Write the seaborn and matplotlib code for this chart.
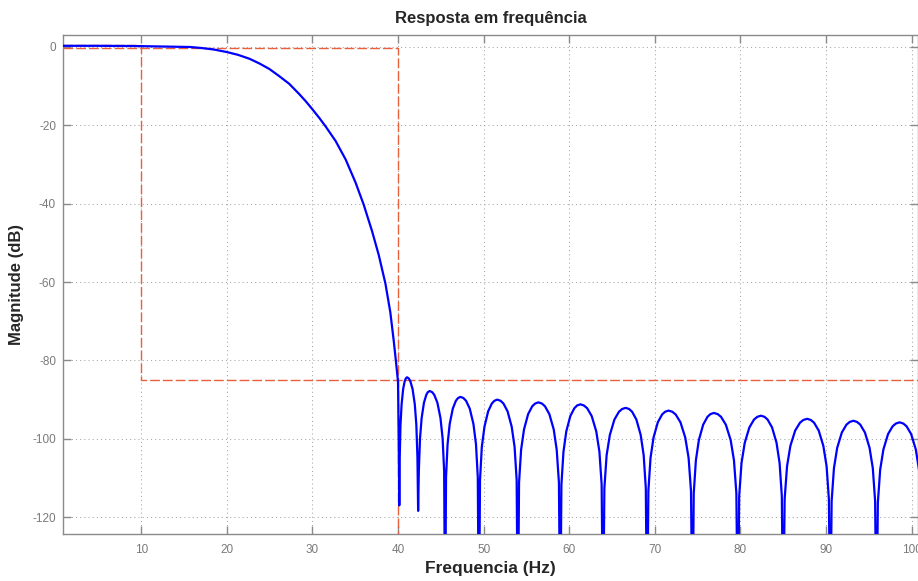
import numpy as np
import pandas as pd
import matplotlib
matplotlib.use("Agg")
import matplotlib.pyplot as plt
import seaborn as sns

# ---------------- data ----------------
# pass band + transition band (Hz, dB)
freq_pass = [0.86, 5.0, 9.0, 12.0, 14.0, 15.7, 17.0, 18.5, 20.0, 21.3, 22.64,
             23.8, 24.96, 26.1, 27.29, 28.45, 29.2, 30.0, 30.8, 31.55, 32.71,
             33.88, 35.04, 36.0, 36.98, 37.75, 38.53, 39.1, 39.5, 39.77, 40.0, 40.08]
mag_pass = [0.3, 0.3, 0.25, 0.15, 0.07, 0.0, -0.25, -0.65, -1.29, -2.0, -3.0,
            -4.2, -5.6, -7.4, -9.4, -12.0, -13.8, -15.9, -18.1, -20.3, -24.0,
            -28.7, -34.6, -40.3, -47.1, -53.1, -60.4, -67.7, -75.0, -80.5, -85.5, -100.0]

# stop band (side lobes and nulls)
freq_stop = [40.15,
             40.20, 40.29, 40.42, 40.60, 40.78, 40.91, 41.05, 41.26, 41.44, 41.70, 41.96, 42.14, 42.27,
             42.35,
             42.43, 42.57, 42.76, 43.03, 43.30, 43.48, 43.70, 43.99, 44.24, 44.60, 44.96, 45.21, 45.39,
             45.50,
             45.61, 45.79, 46.04, 46.40, 46.76, 47.01, 47.30, 47.64, 47.95, 48.38, 48.81, 49.11, 49.32,
             49.45,
             49.58, 49.79, 50.10, 50.53, 50.96, 51.26, 51.60, 51.98, 52.32, 52.80, 53.28, 53.62, 53.86,
             54.00,
             54.14, 54.38, 54.72, 55.20, 55.68, 56.02, 56.40, 56.81, 57.17, 57.68, 58.19, 58.54, 58.80,
             58.95,
             59.09, 59.33, 59.66, 60.13, 60.60, 60.92, 61.30, 61.72, 62.10, 62.63, 63.16, 63.53, 63.79,
             63.95,
             64.11, 64.37, 64.75, 65.28, 65.81, 66.18, 66.60, 67.00, 67.35, 67.85, 68.35, 68.70, 68.95,
             69.10,
             69.25, 69.50, 69.85, 70.35, 70.85, 71.20, 71.60, 72.05, 72.44, 73.00, 73.56, 73.95, 74.23,
             74.40,
             74.55, 74.80, 75.15, 75.65, 76.15, 76.50, 76.90, 77.35, 77.74, 78.30, 78.86, 79.25, 79.53,
             79.70,
             79.86, 80.13, 80.51, 81.05, 81.59, 81.97, 82.40, 82.82, 83.18, 83.70, 84.22, 84.58, 84.84,
             85.00,
             85.17, 85.45, 85.84, 86.40, 86.96, 87.35, 87.80, 88.23, 88.61, 89.15, 89.69, 90.07, 90.34,
             90.50,
             90.66, 90.93, 91.31, 91.85, 92.39, 92.77, 93.20, 93.63, 94.01, 94.55, 95.09, 95.47, 95.74,
             95.90,
             96.06, 96.33, 96.71, 97.25, 97.79, 98.17, 98.60, 99.03, 99.41, 99.95, 100.49, 100.87]
mag_stop = [-117.0,
            -104.8, -96.4, -91.2, -87.3, -85.3, -84.6, -84.3, -84.6, -85.3, -87.3, -91.2, -96.4, -104.8,
            -118.4,
            -108.3, -99.9, -94.7, -90.8, -88.8, -88.1, -87.8, -88.1, -88.8, -90.8, -94.7, -99.9, -108.3,
            -150.0,
            -109.8, -101.4, -96.2, -92.3, -90.3, -89.6, -89.3, -89.6, -90.3, -92.3, -96.2, -101.4, -109.8,
            -150.0,
            -110.5, -102.1, -96.9, -93.0, -91.0, -90.3, -90.0, -90.3, -91.0, -93.0, -96.9, -102.1, -110.5,
            -150.0,
            -111.2, -102.8, -97.6, -93.7, -91.7, -91.0, -90.7, -91.0, -91.7, -93.7, -97.6, -102.8, -111.2,
            -150.0,
            -111.7, -103.3, -98.1, -94.2, -92.2, -91.5, -91.2, -91.5, -92.2, -94.2, -98.1, -103.3, -111.7,
            -150.0,
            -112.6, -104.2, -99.0, -95.1, -93.1, -92.4, -92.1, -92.4, -93.1, -95.1, -99.0, -104.2, -112.6,
            -150.0,
            -113.3, -104.9, -99.7, -95.8, -93.8, -93.1, -92.8, -93.1, -93.8, -95.8, -99.7, -104.9, -113.3,
            -150.0,
            -113.9, -105.5, -100.3, -96.4, -94.4, -93.7, -93.4, -93.7, -94.4, -96.4, -100.3, -105.5, -113.9,
            -150.0,
            -114.6, -106.2, -101.0, -97.1, -95.1, -94.4, -94.1, -94.4, -95.1, -97.1, -101.0, -106.2, -114.6,
            -150.0,
            -115.4, -107.0, -101.8, -97.9, -95.9, -95.2, -94.9, -95.2, -95.9, -97.9, -101.8, -107.0, -115.4,
            -150.0,
            -115.9, -107.5, -102.3, -98.4, -96.4, -95.7, -95.4, -95.7, -96.4, -98.4, -102.3, -107.5, -115.9,
            -150.0,
            -116.3, -107.9, -102.7, -98.8, -96.8, -96.1, -95.8, -96.1, -96.8, -98.8, -102.7, -107.9]

# specification mask lines
mask_a_f = [0.86, 10.0, 10.0, 100.75]
mask_a_db = [0.6, 0.6, -85.0, -85.0]
mask_b_f = [0.86, 40.0, 40.0]
mask_b_db = [-0.3, -0.3, -124.3]

x_ticks = [10, 20, 30, 40, 50, 60, 70, 80, 90, 100]
y_ticks = [-120, -100, -80, -60, -40, -20, 0]

title_text = "Resposta em frequência"
x_label = "Frequencia (Hz)"
y_label = "Magnitude (dB)"

# ---------------- figure ----------------
sns.set_style("white")
plt.rcParams['font.family'] = ['Liberation Sans', 'DejaVu Sans']
plt.rcParams['axes.unicode_minus'] = False

df = pd.DataFrame({"freq": freq_pass + freq_stop, "mag": mag_pass + mag_stop})

fig = plt.figure(figsize=(9.18, 5.81), dpi=100)
ax = fig.add_axes([63 / 918, (581 - 534) / 581, 855 / 918, 499 / 581])

grid_col = "#a6a6a6"
for xv in x_ticks:
    ax.axvline(xv, color=grid_col, lw=0.75, ls=(0, (1, 3)), zorder=0)
for yv in y_ticks:
    ax.axhline(yv, color=grid_col, lw=0.75, ls=(0, (1, 3)), zorder=0)

mask_col = "#e8603c"
ax.plot(mask_a_f, mask_a_db, color=mask_col, lw=1.0, ls=(0, (7, 2.2)), zorder=2)
ax.plot(mask_b_f, mask_b_db, color=mask_col, lw=1.0, ls=(0, (7, 2.2)), zorder=2)

sns.lineplot(data=df, x="freq", y="mag", color="#0000ff", linewidth=1.6,
             estimator=None, sort=False, ax=ax, zorder=3)

ax.set_xlim(0.86, 100.75)
ax.set_ylim(-124.3, 3.06)
ax.set_xticks(x_ticks)
ax.set_yticks(y_ticks)

spine_col = "#8a8a8a"
for s in ax.spines.values():
    s.set_color(spine_col)
    s.set_linewidth(1.0)
    s.set_visible(True)
ax.tick_params(direction="in", length=6, width=1, color=spine_col,
               labelcolor="#7a7a7a", labelsize=8.5, top=True, right=True,
               bottom=True, left=True)
ax.tick_params(axis="x", pad=7)
ax.tick_params(axis="y", pad=5)

ax.set_title(title_text, fontsize=12, fontweight="bold", pad=9)
ax.set_xlabel(x_label, fontsize=12.5, fontweight="bold", labelpad=4)
ax.set_ylabel(y_label, fontsize=12, fontweight="bold", labelpad=6)

fig.savefig("out.png", dpi=100, facecolor="white")
